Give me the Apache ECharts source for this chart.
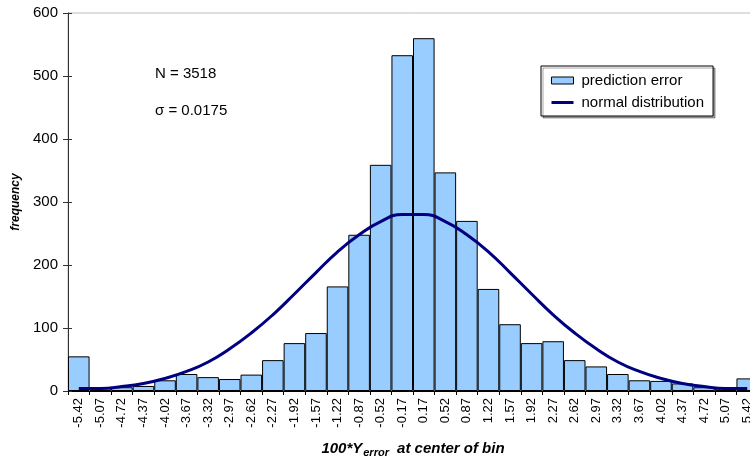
<!DOCTYPE html>
<html>
<head>
<meta charset="utf-8">
<script src="https://cdn.jsdelivr.net/npm/echarts@6/dist/echarts.min.js"></script>
<style>
html,body{margin:0;padding:0;background:#fff;}
#main{width:750px;height:459px;}
</style>
</head>
<body>
<div id="main"></div>
<script>
// bin centres (100*Y_error)
var binLabels = ['-5.42','-5.07','-4.72','-4.37','-4.02','-3.67','-3.32','-2.97','-2.62','-2.27','-1.92','-1.57','-1.22','-0.87','-0.52','-0.17',
	'0.17','0.52','0.87','1.22','1.57','1.92','2.27','2.62','2.97','3.32','3.67','4.02','4.37','4.72','5.07','5.42'];
// histogram counts
var predictionError = [55,5,6,8,17,27,22,19,26,49,76,92,166,248,359,533,
	560,347,270,162,106,76,79,49,39,27,17,16,12,6,4,20];
// normal curve read at each bin centre
var normalDist = [4,4,7,12,20,31,46,67,92,121,154,188,221,248,269,280,
	280,269,248,221,188,154,121,92,67,46,31,20,12,7,4,4];
var yTicks = {min:0, max:600, step:100};

var font = 'Liberation Sans, Arial, sans-serif';
// thin line icon for the curve; tiny corner dots keep the 22x7 box unscaled
var lineIcon = 'path://M0,0h0.05v0.05h-0.05z M0,6.95h0.05v0.05h-0.05z M0,2h22v3h-22z';

var myChart = echarts.init(document.getElementById('main'));
var option = {
	animation: false,
	textStyle: {fontFamily: font},
	grid: {left: 68, top: 13, right: -8, bottom: 68, outerBoundsMode: 'none', containLabel: false,
		show: true, borderColor: '#bbbbbb', borderWidth: 1, backgroundColor: 'transparent'},
	legend: {
		orient: 'vertical',
		left: 541, top: 66,
		padding: [7, 9, 6, 10],
		itemGap: 7,
		itemWidth: 22, itemHeight: 7,
		backgroundColor: '#fff',
		borderColor: '#000', borderWidth: 1,
		shadowColor: 'rgba(0,0,0,0.35)', shadowOffsetX: 2, shadowOffsetY: 2, shadowBlur: 0,
		textStyle: {fontFamily: font, fontSize: 15, color: '#000', padding: [0, 0, 0, 3]},
		data: [
			{name: 'prediction error', icon: 'rect', itemStyle: {borderColor: '#000', borderWidth: 1}},
			{name: 'normal distribution', icon: lineIcon, itemStyle: {color: '#000080', borderWidth: 0}}
		]
	},
	graphic: [
		{type: 'text', left: 155, top: 66, style: {text: 'N = 3518', font: '15px ' + font, fill: '#000'}},
		{type: 'text', left: 155, top: 103, style: {text: 'σ = 0.0175', font: '15px ' + font, fill: '#000'}}
	],
	xAxis: {
		type: 'category',
		data: binLabels,
		axisLine: {lineStyle: {color: '#000', width: 1}},
		axisTick: {show: true, length: 4, interval: 0, lineStyle: {color: '#000'}},
		axisLabel: {interval: 0, rotate: 90, fontSize: 13, color: '#000', margin: 7, fontFamily: font},
		name: '{a|100*Y}{b|error}{a| at center of bin}',
		nameLocation: 'middle',
		nameGap: 48,
		nameTextStyle: {
			rich: {
				a: {fontSize: 15, fontWeight: 'bold', fontStyle: 'italic', color: '#000', fontFamily: font},
				b: {fontSize: 11, fontWeight: 'bold', fontStyle: 'italic', color: '#000', fontFamily: font, padding: [8, 4, 0, 1]}
			}
		}
	},
	yAxis: [
		{
			type: 'value',
			min: yTicks.min, max: yTicks.max, interval: yTicks.step,
			axisLine: {show: true, lineStyle: {color: '#333', width: 1}},
			axisTick: {show: true, length: 5, lineStyle: {color: '#333'}},
			splitLine: {show: false},
			axisLabel: {fontSize: 15, color: '#000', margin: 10, fontFamily: font},
			name: 'frequency',
			nameLocation: 'middle',
			nameGap: 46,
			nameTextStyle: {fontSize: 12, fontWeight: 'bold', fontStyle: 'italic', color: '#000', fontFamily: font}
		},
		{
			type: 'value',
			position: 'left',
			min: yTicks.min, max: yTicks.max, interval: yTicks.step,
			axisLine: {show: false},
			axisTick: {show: true, inside: true, length: 4, lineStyle: {color: '#333'}},
			axisLabel: {show: false},
			splitLine: {show: false}
		}
	],
	series: [
		{
			name: 'prediction error',
			type: 'bar',
			barCategoryGap: '0%',
			itemStyle: {color: '#99ccff', borderColor: '#000', borderWidth: 1},
			data: predictionError
		},
		{
			name: 'normal distribution',
			type: 'line',
			smooth: true,
			symbol: 'none',
			z: 5,
			itemStyle: {color: '#000080'},
			lineStyle: {color: '#000080', width: 3},
			data: normalDist
		}
	]
};
myChart.setOption(option, true);
</script>
</body>
</html>
